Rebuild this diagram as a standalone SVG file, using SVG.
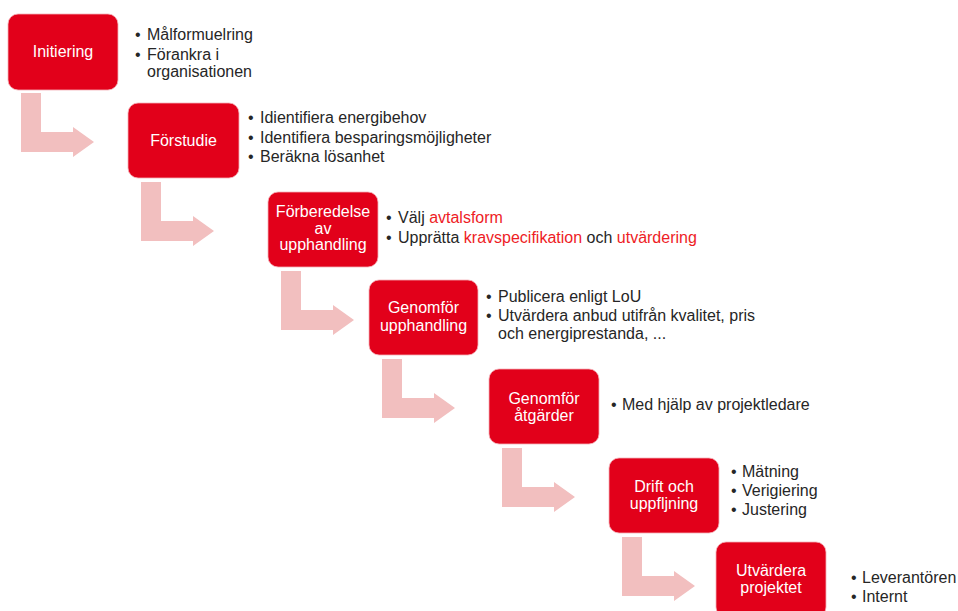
<svg xmlns="http://www.w3.org/2000/svg" width="958" height="611" viewBox="0 0 958 611">
<style>
.box{fill:#E2001A;stroke:#F4B0B8;stroke-width:0.8}
.bt{font-family:"Liberation Sans",Arial,sans-serif;font-size:16px;fill:#ffffff;text-anchor:middle}
.tx{font-family:"Liberation Sans",Arial,sans-serif;font-size:16px;fill:#262626}
.hl{fill:#EE1C25}
.arr{fill:#F2BFBF}
</style>
<rect width="958" height="611" fill="#ffffff"/>
<g id="connectors">
<path class="arr" d="M21,93 H41 V132 H73 V127 L94,142 L73,157 V152 H21 Z"/>
<path class="arr" d="M141,182 H161 V221 H193 V216 L214,231 L193,246 V241 H141 Z"/>
<path class="arr" d="M281,271 H301 V310 H333 V305 L354,320 L333,335 V330 H281 Z"/>
<path class="arr" d="M382,359 H402 V398 H434 V393 L455,408 L434,423 V418 H382 Z"/>
<path class="arr" d="M502,448 H522 V487 H554 V482 L575,497 L554,512 V507 H502 Z"/>
<path class="arr" d="M622,537 H642 V576 H674 V571 L695,586 L674,601 V596 H622 Z"/>
</g>
<g id="n1">
<rect class="box" x="8" y="14" width="110" height="76" rx="10"/>
<text class="bt" x="63" y="57">Initiering</text>
<text class="tx" x="135" y="40">•</text><text class="tx" x="147" y="40">Målformuelring</text>
<text class="tx" x="135" y="59.5">•</text><text class="tx" x="147" y="59.5">Förankra i</text>
<text class="tx" x="147" y="77">organisationen</text>
</g>
<g id="n2">
<rect class="box" x="128" y="103" width="111" height="75" rx="10"/>
<text class="bt" x="183.5" y="145.5">Förstudie</text>
<text class="tx" x="248" y="123">•</text><text class="tx" x="260" y="123">Idientifiera energibehov</text>
<text class="tx" x="248" y="142.5">•</text><text class="tx" x="260" y="142.5">Identifiera besparingsmöjligheter</text>
<text class="tx" x="248" y="162">•</text><text class="tx" x="260" y="162">Beräkna lösanhet</text>
</g>
<g id="n3">
<rect class="box" x="268" y="192" width="110" height="75" rx="10"/>
<text class="bt" x="323" y="217">Förberedelse</text>
<text class="bt" x="323" y="233.5">av</text>
<text class="bt" x="323" y="250">upphandling</text>
<text class="tx" x="386" y="223">•</text><text class="tx" x="398" y="223">Välj <tspan class="hl">avtalsform</tspan></text>
<text class="tx" x="386" y="243">•</text><text class="tx" x="398" y="243">Upprätta <tspan class="hl">kravspecifikation</tspan> och <tspan class="hl">utvärdering</tspan></text>
</g>
<g id="n4">
<rect class="box" x="369" y="280" width="109" height="75" rx="10"/>
<text class="bt" x="423.5" y="313">Genomför</text>
<text class="bt" x="423.5" y="330.5">upphandling</text>
<text class="tx" x="486" y="302">•</text><text class="tx" x="498" y="302">Publicera enligt LoU</text>
<text class="tx" x="486" y="321">•</text><text class="tx" x="498" y="321">Utvärdera anbud utifrån kvalitet, pris</text>
<text class="tx" x="498" y="338.5">och energiprestanda, ...</text>
</g>
<g id="n5">
<rect class="box" x="489" y="369" width="110" height="75" rx="10"/>
<text class="bt" x="544" y="403.5">Genomför</text>
<text class="bt" x="544" y="420.5">åtgärder</text>
<text class="tx" x="611" y="410">•</text><text class="tx" x="622" y="410">Med hjälp av projektledare</text>
</g>
<g id="n6">
<rect class="box" x="609" y="458" width="110" height="75" rx="10"/>
<text class="bt" x="664" y="491.5">Drift och</text>
<text class="bt" x="664" y="508.5">uppfljning</text>
<text class="tx" x="731" y="477">•</text><text class="tx" x="742" y="477">Mätning</text>
<text class="tx" x="731" y="496">•</text><text class="tx" x="742" y="496">Verigiering</text>
<text class="tx" x="731" y="515">•</text><text class="tx" x="742" y="515">Justering</text>
</g>
<g id="n7">
<rect class="box" x="716" y="542" width="110" height="75" rx="10"/>
<text class="bt" x="771" y="575.5">Utvärdera</text>
<text class="bt" x="771" y="592.5">projektet</text>
<text class="tx" x="851" y="583">•</text><text class="tx" x="862" y="583">Leverantören</text>
<text class="tx" x="851" y="602">•</text><text class="tx" x="862" y="602">Internt</text>
</g>
</svg>
